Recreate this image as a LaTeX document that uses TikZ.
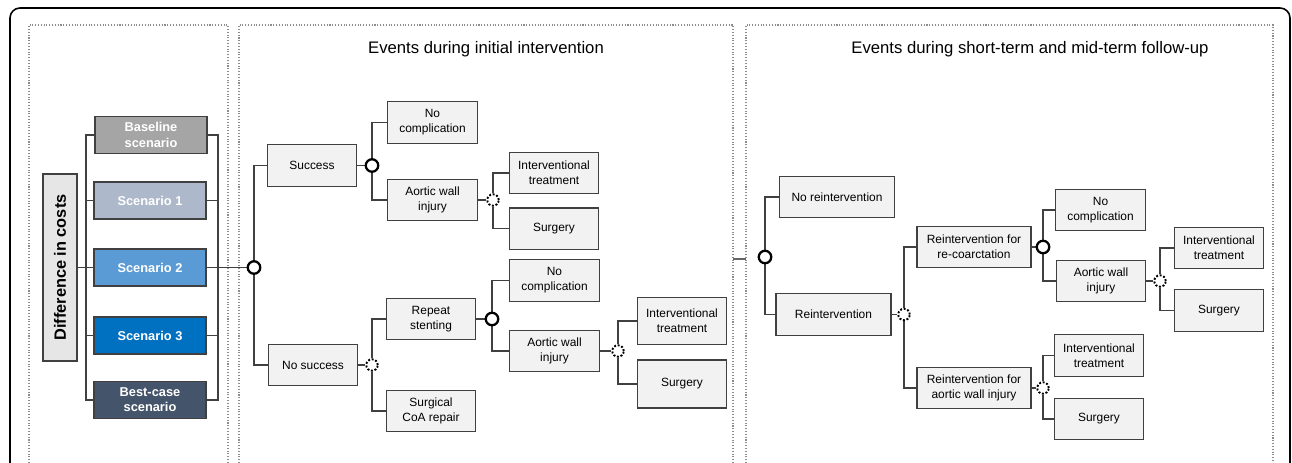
\documentclass[tikz,border=0pt]{standalone}
\usepackage{fontspec}
\setmainfont{Liberation Sans}
\usetikzlibrary{positioning,backgrounds}

\definecolor{boxfill}{HTML}{F2F2F2}
\definecolor{linegray}{HTML}{404040}
\definecolor{panelgray}{HTML}{8C8C8C}
\definecolor{basegray}{HTML}{A5A5A5}
\definecolor{scenone}{HTML}{ADB9CA}
\definecolor{scentwo}{HTML}{5B9BD5}
\definecolor{scenthree}{HTML}{0070C0}
\definecolor{bestblue}{HTML}{44546A}

\begin{document}
\begin{tikzpicture}[
			x=0.02cm, y=-0.02cm,
			node distance=0.26cm,
			evbox/.style={
					draw=linegray,
					fill=boxfill,
					line width=0.75pt,
					align=center,
					inner sep=1pt,
					minimum width=1.79cm,
					minimum height=0.83cm,
					font=\fontsize{6.8}{8.5}\selectfont
				},
			scenbox/.style={
					draw=linegray,
					line width=1.1pt,
					align=center,
					text=white,
					minimum width=2.24cm,
					minimum height=0.74cm,
					font=\bfseries\fontsize{7.3}{8.7}\selectfont
				},
			chance/.style={
					circle, draw=black, fill=white,
					line width=1.3pt,
					minimum size=0.25cm, inner sep=0pt
				},
			dchance/.style={
					circle, draw=black, fill=white,
					densely dotted, line width=1.1pt,
					minimum size=0.23cm, inner sep=0pt
				},
			link/.style={draw=linegray, line width=0.75pt},
			panel/.style={draw=panelgray, densely dotted, line width=0.6pt},
			title/.style={font=\fontsize{9.5}{11}\selectfont}
		]

		\useasboundingbox (0,0) rectangle (1292,463);

		% frame and panels
		\draw[line width=0.9pt, rounded corners=0.2cm] (10,463) -- (10,8) -- (1290,8) -- (1290,463);
		\draw[panel] (29,463) -- (29,25) -- (228,25) -- (228,463);
		\draw[panel] (239,463) -- (239,25) -- (733,25) -- (733,463);
		\draw[panel] (746,463) -- (746,25) -- (1273,25) -- (1273,463);

		\node[title] (t1) at (486,49) {Events during initial intervention};
		\node[title] (t2) at (1030,49) {Events during short-term and mid-term follow-up};

		% scenarios
		\node (diff) [draw=linegray, fill=boxfill!95!black, line width=0.8pt,
			rotate=90, minimum width=3.74cm, minimum height=0.68cm,
			font=\bfseries\fontsize{9.3}{11}\selectfont] at (60,267.5)
		{Difference in costs};

		\node[scenbox, fill=basegray] (base) at (151,135) {Baseline\\scenario};
		\node[scenbox, fill=scenone] (scen1) at (150,200.5) {Scenario 1};
		\node[scenbox, fill=scentwo] (scen2) at (150,267.5) {Scenario 2};
		\node[scenbox, fill=scenthree] (scen3) at (150,335.5) {Scenario 3};
		\node[scenbox, fill=bestblue] (best) at (150,400) {Best-case\\scenario};

		\coordinate (lb) at (86,267.5);
		\coordinate (rb) at (218,267.5);

		% initial intervention
		\node[chance] (c0) at (254,267.5) {};
		\node[evbox] (succ) at (312,165.5) {Success};
		\node[evbox] (nosucc) at (313,365) {No success};

		\node[chance] (c1) at (372,165.5) {};
		\node[evbox] (nocomp1) at (432.5,122.5) {No\\complication};
		\node[evbox] (awi1) at (432.5,200) {Aortic wall\\injury};

		\node[dchance] (d1) at (493,200) {};
		\node[evbox] (it1) at (554,173) {Interventional\\treatment};
		\node[evbox] (surg1) [below=of it1] {Surgery};

		\node[dchance] (d2) at (372,365) {};
		\node[evbox] (rep) at (431,319) {Repeat\\stenting};
		\node[evbox] (coa) at (431,411) {Surgical\\CoA repair};

		\node[chance] (c2) at (492,319) {};
		\node[evbox] (nocomp2) at (554.5,280.5) {No\\complication};
		\node[evbox] (awi2) at (554.5,351) {Aortic wall\\injury};

		\node[dchance] (d3) at (618,351) {};
		\node[evbox, minimum height=0.94cm] (it2) at (682,321) {Interventional\\treatment};
		\node[evbox, minimum height=0.96cm] (surg2) at (682,384) {Surgery};

		% follow-up
		\coordinate (p2r) at (733,259);
		\coordinate (p3l) at (746,259);
		\draw[draw=linegray!80, line width=1pt] (p2r) -- (p3l);

		\node[chance] (c3) at (765,257) {};
		\node[evbox, minimum width=2.3cm] (norei) at (837,197) {No reintervention};
		\node[evbox, minimum width=2.3cm] (rei) at (833.5,314.5) {Reintervention};

		\node[dchance] (d4) at (904,314.5) {};
		\node[evbox, minimum width=2.28cm] (reco) at (974,247) {Reintervention for\\re-coarctation};
		\node[evbox, minimum width=2.28cm] (reaw) at (974,388) {Reintervention for\\aortic wall injury};

		\node[chance] (c4) at (1043,247) {};
		\node[evbox] (nocomp3) at (1100.5,210) {No\\complication};
		\node[evbox] (awi3) at (1101,281) {Aortic wall\\injury};

		\node[dchance] (d5) at (1160,281) {};
		\node[evbox] (it3) at (1219,248) {Interventional\\treatment};
		\node[evbox] (surg3) at (1219,310.5) {Surgery};

		\node[dchance] (d6) at (1043,388) {};
		\node[evbox] (it4) at (1099,355.5) {Interventional\\treatment};
		\node[evbox] (surg4) at (1099,419) {Surgery};

		% branches, kept behind the chance nodes
		\begin{scope}[on background layer]
			\draw[link] (diff.south) -- (lb);
			\foreach \s in {base,scen1,scen2,scen3,best} {
					\draw[link] (lb) |- (\s.west);
					\draw[link] (\s.east) -| (rb);
				}
			\draw[link] (rb) -- (c0);
			\draw[link] (c0) |- (succ.west);
			\draw[link] (c0) |- (nosucc.west);
			\draw[link] (succ) -- (c1);
			\draw[link] (c1) |- (nocomp1.west);
			\draw[link] (c1) |- (awi1.west);
			\draw[link] (awi1) -- (d1);
			\draw[link] (d1) |- (it1.west);
			\draw[link] (d1) |- (surg1.west);
			\draw[link] (nosucc) -- (d2);
			\draw[link] (d2) |- (rep.west);
			\draw[link] (d2) |- (coa.west);
			\draw[link] (rep) -- (c2);
			\draw[link] (c2) |- (nocomp2.west);
			\draw[link] (c2) |- (awi2.west);
			\draw[link] (awi2) -- (d3);
			\draw[link] (d3) |- (it2.west);
			\draw[link] (d3) |- (surg2.west);

			\draw[link] (c3) |- (norei.west);
			\draw[link] (c3) |- (rei.west);
			\draw[link] (rei) -- (d4);
			\draw[link] (d4) |- (reco.west);
			\draw[link] (d4) |- (reaw.west);
			\draw[link] (reco) -- (c4);
			\draw[link] (c4) |- (nocomp3.west);
			\draw[link] (c4) |- (awi3.west);
			\draw[link] (awi3) -- (d5);
			\draw[link] (d5) |- (it3.west);
			\draw[link] (d5) |- (surg3.west);
			\draw[link] (reaw) -- (d6);
			\draw[link] (d6) |- (it4.west);
			\draw[link] (d6) |- (surg4.west);
		\end{scope}

	\end{tikzpicture}
\end{document}
